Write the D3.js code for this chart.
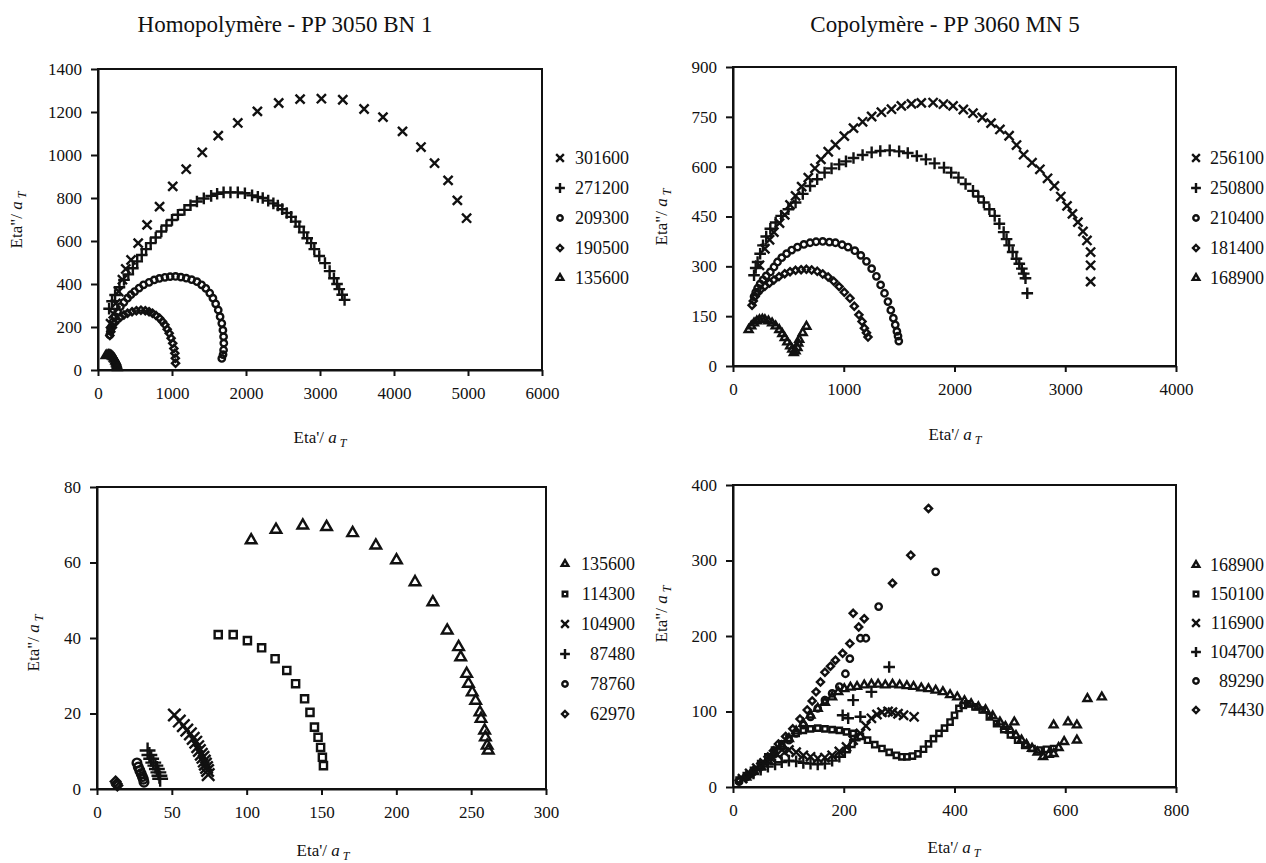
<!DOCTYPE html>
<html>
<head>
<meta charset="utf-8">
<script src="https://cdn.jsdelivr.net/npm/d3@7"></script>
<style>
  body { margin: 0; background: #fff; }
  svg { display: block; }
  text { font-family: "Liberation Serif", "DejaVu Serif", serif; fill: #111; }
  .axis path, .axis line { stroke: #111; stroke-width: 2; }
  .axis text { font-size: 17px; }
  .frame { fill: none; stroke: #111; stroke-width: 2; }
  .mark { fill: none; stroke: #111; stroke-width: 2.4; }
</style>
</head>
<body>
<svg id="chart" width="1266" height="863"></svg>
<script>
// ---- data ----

// top-left : Homopolymère - PP 3050 BN 1
var homoTicksX = [0, 1000, 2000, 3000, 4000, 5000, 6000];
var homoTicksY = [0, 200, 400, 600, 800, 1000, 1200, 1400];
var homoLabels = ["301600", "271200", "209300", "190500", "135600"];

var homo301600 = [[170,215],[207,262],[240,310],[279,365],[330,420],[375,470],[447,512],[543,590],[663,675],
  [832,760],[1010,854],[1192,934],[1409,1012],[1625,1090],[1889,1149],[2154,1203],[2442,1242],[2731,1260],
  [3019,1262],[3308,1257],[3596,1214],[3851,1176],[4115,1110],[4365,1037],[4548,962],[4731,882],[4856,789],[4981,706]];
var homo271200 = [[150,285],[190,320],[231,349],[290,385],[351,419],[410,445],[471,473],[530,505],[591,535],
  [650,562],[712,590],[780,616],[856,644],[925,672],[1000,698],[1080,722],[1168,745],[1250,766],[1337,784],
  [1430,798],[1529,810],[1610,820],[1697,826],[1790,826],[1889,826],[1985,822],[2082,812],[2160,805],
  [2226,800],[2300,788],[2370,775],[2430,765],[2490,748],[2550,730],[2611,712],[2670,690],[2721,667],
  [2780,640],[2827,613],[2880,590],[2923,562],[2990,530],[3067,497],[3130,460],[3188,427],[3230,400],[3260,376],[3300,350],[3332,326]];
var homo209300 = [[159,163],[170,185],[183,202],[205,225],[231,248],[265,272],[303,295],[350,315],[399,334],
  [445,350],[495,365],[555,381],[615,396],[690,408],[760,419],[830,426],[904,431],[975,434],[1048,435],
  [1120,432],[1192,427],[1265,420],[1337,411],[1400,396],[1457,380],[1510,358],[1553,334],[1590,308],
  [1625,279],[1650,248],[1673,217],[1688,185],[1697,155],[1700,125],[1697,93],[1690,72],[1673,54]];
var homo190500 = [[160,160],[173,178],[195,198],[221,217],[260,232],[303,245],[350,256],[399,264],[460,271],
  [519,276],[580,278],[639,276],[690,271],[736,264],[785,253],[832,241],[870,226],[904,210],[935,190],
  [962,171],[988,148],[1010,124],[1025,100],[1038,78],[1045,55],[1048,31]];
var homo135600 = [[103,66],[120,69],[138,70],[153,69],[171,68],[186,65],[200,61],[213,55],[224,50],[234,42],
  [242,38],[247,31],[251,26],[256,20],[260,14],[262,10]];

// top-right : Copolymère - PP 3060 MN 5
var copoTicksX = [0, 1000, 2000, 3000, 4000];
var copoTicksY = [0, 150, 300, 450, 600, 750, 900];
var copoLabels = ["256100", "250800", "210400", "181400", "168900"];

var copo256100 = [[239,303],[288,353],[330,380],[369,403],[420,430],[467,455],[515,485],[565,512],[620,540],
  [680,567],[740,595],[794,622],[860,645],[925,666],[1005,692],[1088,716],[1170,735],[1252,751],[1340,764],
  [1431,773],[1520,783],[1611,789],[1700,792],[1807,793],[1900,788],[1987,783],[2080,772],[2167,761],
  [2250,748],[2330,731],[2410,712],[2493,693],[2560,665],[2624,636],[2700,612],[2771,592],[2840,565],
  [2902,542],[2960,510],[3016,482],[3065,458],[3114,433],[3160,405],[3196,378],[3229,343],[3229,303],[3229,254]];
var copo250800 = [[190,273],[205,295],[222,313],[245,338],[271,363],[300,390],[337,413],[385,432],[435,452],
  [500,472],[565,492],[630,518],[696,542],[760,562],[827,582],[890,595],[958,607],[1020,616],[1088,626],
  [1170,635],[1252,643],[1330,647],[1415,649],[1500,646],[1578,641],[1660,632],[1742,622],[1820,610],
  [1905,597],[1970,582],[2036,567],[2100,548],[2167,527],[2215,510],[2265,492],[2315,472],[2363,452],
  [2405,428],[2444,403],[2470,382],[2493,363],[2525,343],[2559,323],[2585,308],[2608,293],[2625,278],[2641,264],[2657,219]];
var copo210400 = [[190,209],[205,222],[222,234],[245,247],[271,259],[300,271],[337,283],[370,298],[402,313],
  [440,326],[484,338],[530,349],[582,358],[640,366],[696,371],[750,374],[810,375],[870,373],[925,371],
  [985,365],[1039,358],[1100,347],[1154,333],[1205,315],[1252,293],[1295,270],[1333,244],[1368,219],
  [1399,194],[1425,168],[1448,144],[1465,124],[1480,104],[1490,90],[1497,75]];
var copo181400 = [[172,183],[183,196],[200,209],[222,220],[250,230],[288,240],[330,250],[369,259],[415,269],
  [467,278],[515,284],[565,288],[615,290],[663,291],[710,289],[761,285],[810,277],[859,268],[910,255],
  [958,239],[1005,222],[1056,204],[1095,180],[1137,154],[1165,134],[1186,114],[1205,100],[1219,87]];
var copo168900 = [[141,109],[165,120],[190,129],[215,135],[239,139],[265,140],[288,139],[320,135],[353,129],
  [385,120],[418,109],[445,97],[467,85],[490,72],[516,60],[535,50],[549,40],[565,45],[582,55],[590,68],
  [598,80],[630,100],[663,119]];

// bottom-left : Homopolymère, low temperatures
var homoLowTicksX = [0, 50, 100, 150, 200, 250, 300];
var homoLowTicksY = [0, 20, 40, 60, 80];
var homoLowLabels = ["135600", "114300", "104900", "87480", "78760", "62970"];

var low135600 = [[103,65.9],[119.6,68.7],[137.5,69.8],[153.4,69.4],[170.8,67.8],[186.3,64.5],[200.1,60.6],
  [212.5,54.8],[224.4,49.5],[234,42],[241.6,37.6],[243,34.9],[247,30.5],[248.2,27.9],[250.7,25.6],
  [253,23.4],[255.9,20.3],[256.6,18.6],[259,15.5],[259.5,13.7],[260.7,11.5],[261.4,10.2]];
var low114300 = [[81,40.9],[91,40.9],[100.5,39.3],[110,37.4],[119,34.5],[126.8,31.4],[132.7,27.9],
  [138.7,23.9],[142.3,20.3],[145.3,16.4],[147.7,13.7],[149.4,11],[150.6,8.4],[151.3,6.2]];
var low104900 = [[51.7,19.6],[55,18],[57.7,16.8],[60,15.6],[62.4,14.6],[64.3,13.4],[66,12.4],[67.3,11.2],
  [68.4,10.2],[69.7,9.2],[70.8,8.4],[71.7,7.4],[72.4,6.6],[73.2,5.7],[73.9,4.9],[74.3,3.8]];
var low87480 = [[33.8,10.2],[35,9],[36.2,8],[37.6,7],[39,6.2],[40,5.3],[41,4.4],[41.7,3.5],[42.2,2.7]];
var low78760 = [[26.7,6.9],[27.6,5.8],[28.6,4.9],[29.5,4.1],[30.3,3.3],[31,2.6],[31.4,1.8]];
var low62970 = [[12.4,2],[13.1,1.4],[13.6,0.9]];

// bottom-right : Copolymère, low temperatures
var copoLowTicksX = [0, 200, 400, 600, 800];
var copoLowTicksY = [0, 100, 200, 300, 400];
var copoLowLabels = ["168900", "150100", "116900", "104700", "89290", "74430"];

var clow168900 = [[24,13],[37,20],[50,27],[63,35],[75,44],[88,54],[101,64],[114,74],[127,84],[140,95],[153,104],
  [166,112],[179,119],[190,126],[201,130],[212,132],[224,133],[237,135],[250,136],[262,136],[275,135],
  [288,136],[301,135],[314,134],[326,133],[340,131],[353,130],[366,128],[379,126],[392,122],[405,119],
  [418,114],[430,110],[443,106],[456,102],[469,94],[482,86],[492,80],[501,75],[511,68],[521,62],[530,56],
  [540,51],[550,46],[560,40],[570,43],[579,44],[588,52],[598,60],[508,86],[579,82],[605,86],[621,82],
  [621,62],[640,117],[666,119]];
var clow150100 = [[11,9],[24,15],[37,22],[50,31],[63,40],[75,49],[88,57],[101,64],[114,71],[127,75],[140,77],
  [153,78],[166,77],[179,76],[192,75],[205,73],[217,71],[230,67],[243,62],[256,56],[269,51],[282,46],
  [295,42],[305,40],[314,40],[324,41],[334,44],[344,50],[353,57],[362,64],[372,71],[382,78],[392,86],
  [400,95],[408,104],[416,108],[424,110],[437,106],[450,102],[463,93],[476,84],[489,76],[501,69],
  [514,62],[527,55],[540,51],[553,49],[566,50],[579,51]];
var clow116900 = [[17,11],[30,18],[43,25],[56,32],[69,38],[80,43],[93,46],[101,49],[114,46],[127,42],[140,40],
  [153,38],[166,39],[179,42],[192,47],[205,53],[217,62],[230,71],[240,81],[250,91],[260,96],[269,99],
  [280,100],[288,99],[298,97],[308,95],[327,93]];
var clow104700 = [[24,13],[37,18],[50,23],[63,27],[76,30],[88,33],[101,35],[114,34],[127,32],[140,31],
  [153,30],[166,31],[179,35],[192,40],[202,46],[211,53],[220,62],[198,95],[208,91],[217,115],[230,93],
  [250,126],[282,159]];
var clow89290 = [[11,7],[24,13],[37,20],[50,27],[63,35],[75,44],[88,53],[101,62],[114,71],[127,82],[140,93],
  [153,104],[166,115],[179,124],[192,133],[203,150],[211,170],[230,197],[240,197],[263,239],[366,285]];
var clow74430 = [[11,9],[24,15],[37,22],[50,31],[63,40],[73,48],[82,57],[95,67],[108,77],[121,90],[134,102],
  [143,114],[150,126],[158,139],[166,152],[176,160],[185,168],[198,177],[211,190],[217,230],[227,212],
  [237,223],[288,270],[321,307],[353,369]];

// ---- layout ----
var svg = d3.select("#chart");

var panels = [
  { box: [98, 542, 69, 370], xd: [0, 6000], yd: [0, 1400], tx: homoTicksX, ty: homoTicksY,
    series: [homo301600, homo271200, homo209300, homo190500, homo135600], labels: homoLabels,
    shapes: ["times", "plus", "circle", "diamond", "triangle"], size: 1,
    legend: { x: 560, y: 158, dy: 30, tx: 629 },
    ylab: [22, 220], xlab: [320, 443] },
  { box: [733, 1176, 67, 366], xd: [0, 4000], yd: [0, 900], tx: copoTicksX, ty: copoTicksY,
    series: [copo256100, copo250800, copo210400, copo181400, copo168900], labels: copoLabels,
    shapes: ["times", "plus", "circle", "diamond", "triangle"], size: 1,
    legend: { x: 1196, y: 158, dy: 30, tx: 1264 },
    ylab: [667, 217], xlab: [955, 440] },
  { box: [97, 546, 487, 789], xd: [0, 300], yd: [0, 80], tx: homoLowTicksX, ty: homoLowTicksY,
    series: [low135600, low114300, low104900, low87480, low78760, low62970], labels: homoLowLabels,
    shapes: ["triangle", "square", "times", "plus", "circle", "diamond"], size: 1.35,
    legend: { x: 565, y: 564, dy: 30, tx: 635 },
    ylab: [39, 643], xlab: [323, 856] },
  { box: [733, 1176, 485, 787], xd: [0, 800], yd: [0, 400], tx: copoLowTicksX, ty: copoLowTicksY,
    series: [clow168900, clow150100, clow116900, clow104700, clow89290, clow74430], labels: copoLowLabels,
    shapes: ["triangle", "square", "times", "plus", "circle", "diamond"], size: 1,
    legend: { x: 1196, y: 565, dy: 29, tx: 1264 },
    ylab: [667, 614], xlab: [954, 853] }
];

var symbolTypes = {
  times: d3.symbolTimes, plus: d3.symbolPlus, circle: d3.symbolCircle,
  diamond: d3.symbolDiamond2, triangle: d3.symbolTriangle2, square: d3.symbolSquare2
};
var symbolSizes = { times: 56, plus: 46, circle: 32, diamond: 32, triangle: 44, square: 36 };

function translate(x, y) { return "translate(" + x + "," + y + ")"; }

function symbolPath(shape, k) {
  return d3.symbol().type(symbolTypes[shape]).size(symbolSizes[shape] * k * k)();
}

// Eta'/ a_T style label
function etaLabel(sel, prime) {
  sel.append("tspan").text("Eta" + prime + "/ ");
  sel.append("tspan").attr("font-style", "italic").text("a");
  sel.append("tspan").attr("font-style", "italic").attr("font-size", "12px").attr("dy", 4).text(" T");
}

panels.forEach(function(p) {
  var x = d3.scaleLinear().domain(p.xd).range([p.box[0], p.box[1]]);
  var y = d3.scaleLinear().domain(p.yd).range([p.box[3], p.box[2]]);

  svg.append("rect").attr("class", "frame")
    .attr("x", p.box[0]).attr("y", p.box[2])
    .attr("width", p.box[1] - p.box[0]).attr("height", p.box[3] - p.box[2]);

  svg.append("g").attr("class", "axis")
    .attr("transform", translate(0, p.box[3]))
    .call(d3.axisBottom(x).tickValues(p.tx).tickFormat(d3.format("d")).tickSize(6).tickSizeOuter(0).tickPadding(11));

  svg.append("g").attr("class", "axis")
    .attr("transform", translate(p.box[0], 0))
    .call(d3.axisLeft(y).tickValues(p.ty).tickFormat(d3.format("d")).tickSize(7).tickSizeOuter(0).tickPadding(9));

  // points
  p.series.forEach(function(data, i) {
    var shape = p.shapes[i];
    svg.append("g").selectAll("path")
      .data(data)
      .enter().append("path")
      .attr("class", "mark")
      .attr("transform", function(d) { return translate(x(d[0]), y(d[1])); })
      .attr("d", symbolPath(shape, p.size));
  });

  // legend
  p.labels.forEach(function(lab, i) {
    var ly = p.legend.y + i * p.legend.dy;
    svg.append("path").attr("class", "mark")
      .attr("transform", translate(p.legend.x, ly))
      .attr("d", symbolPath(p.shapes[i], 0.85))
      .style("stroke-width", 2.4);
    svg.append("text")
      .attr("x", p.legend.tx).attr("y", ly + 6)
      .attr("text-anchor", "end")
      .style("font-size", "18px")
      .text(lab);
  });

  // axis titles
  var xt = svg.append("text")
    .attr("x", p.xlab[0]).attr("y", p.xlab[1])
    .attr("text-anchor", "middle").style("font-size", "17px");
  etaLabel(xt, "'");

  var yt = svg.append("text")
    .attr("transform", translate(p.ylab[0], p.ylab[1]) + " rotate(-90)")
    .attr("text-anchor", "middle").style("font-size", "17px");
  etaLabel(yt, "\"");
});

// panel titles
svg.append("text").attr("x", 285).attr("y", 32).attr("text-anchor", "middle")
  .style("font-size", "23px").text("Homopolymère - PP 3050 BN 1");
svg.append("text").attr("x", 945).attr("y", 32).attr("text-anchor", "middle")
  .style("font-size", "23px").text("Copolymère - PP 3060 MN 5");
</script>
</body>
</html>
